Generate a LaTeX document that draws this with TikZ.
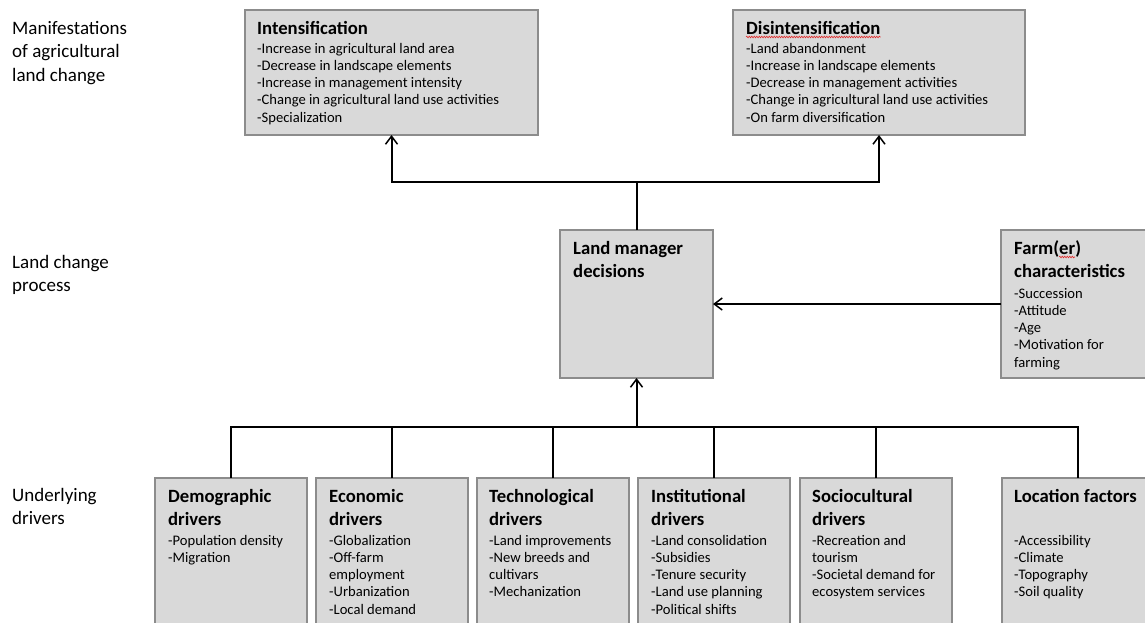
\documentclass[tikz,border=0pt]{standalone}
\usepackage{fontspec}
\setmainfont{Carlito}
\usetikzlibrary{arrows.meta,decorations.pathmorphing}
\definecolor{boxfill}{RGB}{217,217,217}
\definecolor{boxline}{RGB}{140,140,140}
\definecolor{spell}{RGB}{225,40,40}
\newcommand\stack[1]{\parbox[t]{300pt}{\raggedright #1}}
\begin{document}
\begin{tikzpicture}[x=1pt,y=-1pt,
  box/.style={draw=boxline, fill=boxfill, line width=1.2pt, rectangle, anchor=north west, inner sep=0pt, outer sep=0pt},
  ttl/.style={anchor=base west, inner sep=0pt, font=\bfseries\fontsize{18.7}{23.3}\selectfont},
  itm/.style={anchor=base west, inner sep=0pt, font=\fontsize{14.6}{17.3}\selectfont},
  lbl/.style={anchor=base west, inner sep=0pt, font=\fontsize{19}{23.5}\selectfont},
  conn/.style={line width=2pt, black},
  arr/.style={conn, -{Straight Barb[length=8pt,width=12pt,line width=1.5pt]}},
  bbox/.style={box, minimum width=152pt, minimum height=160pt},
  spellline/.style={spell, line width=0.6pt, decorate, decoration={snake, amplitude=0.8pt, segment length=2.5pt}}
]
\useasboundingbox (0,0) rectangle (1145,622);
\fill[white] (0,0) rectangle (1145,622);
\clip (0,0) rectangle (1145,622);

% left labels
\node[lbl] (l1) at (12,34) {\stack{Manifestations\\of agricultural\\land change}};
\node[lbl] (l2) at (12,268) {\stack{Land change\\process}};
\node[lbl] (l3) at (12,501) {\stack{Underlying\\drivers}};

% top boxes
\node[box, minimum width=293pt, minimum height=125pt] (int) at (245,10) {};
\node[ttl] (intT) at (257,34) {Intensification};
\node[itm] (intI) at (257,53) {\stack{-Increase in agricultural land area\\-Decrease in landscape elements\\-Increase in management intensity\\-Change in agricultural land use activities\\-Specialization}};

\node[box, minimum width=292pt, minimum height=125pt] (dis) at (733,10) {};
\node[ttl] (disT) at (746,34) {Disintensification};
\node[itm] (disI) at (746,53) {\stack{-Land abandonment\\-Increase in landscape elements\\-Decrease in management activities\\-Change in agricultural land use activities\\-On farm diversification}};
\draw[spellline] ([yshift=-3pt]disT.base west) -- ([yshift=-3pt]disT.base east);

% middle boxes
\node[box, minimum width=153pt, minimum height=148pt] (lmd) at (560,230) {};
\node[ttl] (lmdT) at (573,254) {\stack{Land manager\\decisions}};

\node[box, minimum width=152pt, minimum height=148pt] (far) at (1001,230) {};
\node[ttl] (farT) at (1014,254) {\stack{Farm(er)\\characteristics}};
\node[itm] (farI) at (1014,298) {\stack{-Succession\\-Attitude\\-Age\\-Motivation for\\farming}};
\draw[spellline] ([xshift=45pt,yshift=-3pt]farT.base west) -- ++(16,0);

% bottom boxes
\node[bbox] (dem) at (155,478) {};
\node[ttl] (demT) at (168,502) {\stack{Demographic\\drivers}};
\node[itm] (demI) at (168,545) {\stack{-Population density\\-Migration}};

\node[bbox] (eco) at (316,478) {};
\node[ttl] (ecoT) at (329,502) {\stack{Economic\\drivers}};
\node[itm] (ecoI) at (329,545) {\stack{-Globalization\\-Off-farm\\employment\\-Urbanization\\-Local demand}};

\node[bbox] (tec) at (477,478) {};
\node[ttl] (tecT) at (489,502) {\stack{Technological\\drivers}};
\node[itm] (tecI) at (489,545) {\stack{-Land improvements\\-New breeds and\\cultivars\\-Mechanization}};

\node[bbox] (ins) at (638,478) {};
\node[ttl] (insT) at (651,502) {\stack{Institutional\\drivers}};
\node[itm] (insI) at (651,545) {\stack{-Land consolidation\\-Subsidies\\-Tenure security\\-Land use planning\\-Political shifts}};

\node[bbox] (soc) at (800,478) {};
\node[ttl] (socT) at (812,502) {\stack{Sociocultural\\drivers}};
\node[itm] (socI) at (812,545) {\stack{-Recreation and\\tourism\\-Societal demand for\\ecosystem services}};

\node[bbox] (loc) at (1002,478) {};
\node[ttl] (locT) at (1014,502) {Location factors};
\node[itm] (locI) at (1014,545) {\stack{-Accessibility\\-Climate\\-Topography\\-Soil quality}};

% connectors
\coordinate (jt) at (636.5,182);
\draw[conn] (lmd.north) -- (jt);
\draw[arr] (jt) -| (int.south);
\draw[arr] (jt) -| (dis.south);
\draw[arr] (far.west) -- (lmd.east);
\coordinate (jb) at (636.5,427);
\draw[conn] (dem.north) |- (jb) -| (loc.north);
\draw[arr] (jb) -- (lmd.south);
\draw[conn] (eco.north) -- (eco.north |- jb);
\draw[conn] (tec.north) -- (tec.north |- jb);
\draw[conn] (ins.north) -- (ins.north |- jb);
\draw[conn] (soc.north) -- (soc.north |- jb);
\end{tikzpicture}
\end{document}
